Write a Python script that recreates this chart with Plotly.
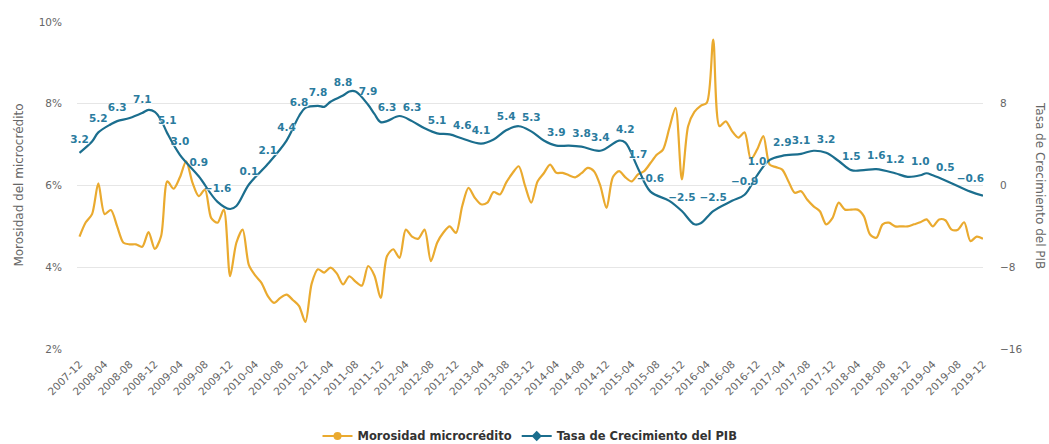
import pandas as pd
import plotly.graph_objects as go

# ---- categories (monthly, 2007-12 .. 2019-12) ----
meses = list(pd.date_range("2007-12-01", "2019-12-01", freq="MS").strftime("%Y-%m"))
etiquetas_x = meses[::4]

# ---- left / right axis ticks ----
ticks_izq = [2, 4, 6, 8, 10]
ticks_izq_txt = ["2%", "4%", "6%", "8%", "10%"]
ticks_der = [-16, -8, 0, 8]
ticks_der_txt = ["\u221216", "\u22128", "0", "8"]

# ---- Morosidad microcrédito (% monthly) ----
morosidad = [
    4.75, 5.10, 5.30, 6.05, 5.30, 5.40, 5.00, 4.60, 4.56, 4.56, 4.50, 4.86, 4.45,
    4.76, 6.10, 5.92, 6.20, 6.59, 6.07, 5.74, 5.90, 5.20, 5.09, 5.41, 3.78, 4.60,
    4.92, 4.05, 3.80, 3.62, 3.30, 3.13, 3.25, 3.33, 3.20, 3.05, 2.66, 3.60, 3.95,
    3.87, 3.99, 3.85, 3.58, 3.78, 3.65, 3.55, 4.03, 3.80, 3.25, 4.27, 4.44, 4.23,
    4.92, 4.75, 4.70, 4.92, 4.15, 4.60, 4.85, 5.00, 4.84, 5.50, 5.94, 5.70, 5.54,
    5.58, 5.84, 5.78, 6.07, 6.30, 6.47, 6.00, 5.58, 6.10, 6.30, 6.51, 6.31, 6.31,
    6.25, 6.20, 6.30, 6.43, 6.35, 6.00, 5.45, 6.20, 6.35, 6.20, 6.10, 6.27, 6.35,
    6.55, 6.75, 6.88, 7.40, 7.90, 6.15, 7.45, 7.80, 7.95, 8.03, 9.57, 7.45, 7.57,
    7.33, 7.17, 7.30, 6.64, 6.88, 7.21, 6.51, 6.45, 6.39, 6.10, 5.82, 5.86, 5.65,
    5.49, 5.37, 5.05, 5.20, 5.58, 5.41, 5.41, 5.41, 5.25, 4.80, 4.72, 5.05, 5.09,
    5.00, 5.00, 5.00, 5.05, 5.10, 5.17, 5.00, 5.17, 5.15, 4.92, 4.92, 5.10, 4.64,
    4.75, 4.70,
]

# ---- Tasa de Crecimiento del PIB ----
pib_fechas = [
    "2007-12", "2008-02", "2008-03", "2008-05", "2008-06", "2008-08", "2008-10", "2008-11",
    "2008-12", "2009-01", "2009-02", "2009-04", "2009-07", "2009-10", "2009-12", "2010-01",
    "2010-03", "2010-06", "2010-09", "2010-11", "2010-12", "2011-02", "2011-03", "2011-04",
    "2011-06", "2011-07", "2011-08", "2011-10", "2011-11", "2011-12", "2012-01", "2012-03",
    "2012-05", "2012-07", "2012-09", "2012-11", "2013-01", "2013-04", "2013-06", "2013-08",
    "2013-10", "2013-12", "2014-02", "2014-04", "2014-06", "2014-08", "2014-11", "2015-02",
    "2015-03", "2015-05", "2015-07", "2015-10", "2015-12", "2016-02", "2016-03", "2016-05",
    "2016-08", "2016-10", "2016-12", "2017-02", "2017-04", "2017-07", "2017-09", "2017-11",
    "2018-01", "2018-03", "2018-05", "2018-07", "2018-10", "2018-12", "2019-02", "2019-03",
    "2019-04", "2019-06", "2019-10", "2019-12",
]
pib_valores = [
    3.2, 4.3, 5.2, 6.0, 6.3, 6.6, 7.1, 7.4,
    7.2, 6.4, 5.1, 3.0, 0.9, -1.6, -2.3, -2.0,
    0.1, 2.1, 4.4, 6.8, 7.6, 7.8, 7.7, 8.2,
    8.8, 9.2, 9.2, 7.9, 7.0, 6.2, 6.3, 6.8,
    6.3, 5.6, 5.1, 5.0, 4.6, 4.1, 4.5, 5.4,
    5.8, 5.3, 4.4, 3.9, 3.9, 3.8, 3.4, 4.4,
    4.2, 1.7, -0.6, -1.5, -2.5, -3.8, -3.7, -2.5,
    -1.5, -0.9, 1.0, 2.5, 2.9, 3.1, 3.4, 3.2,
    2.4, 1.5, 1.5, 1.6, 1.2, 0.85, 1.0, 1.2,
    1.0, 0.5, -0.6, -1.0,
]
# which points show a visible data label
pib_etiqueta = [
    1, 0, 1, 0, 1, 0, 1, 0,
    0, 0, 1, 1, 1, 1, 0, 0,
    1, 1, 1, 1, 0, 1, 0, 0,
    1, 0, 0, 1, 0, 0, 1, 0,
    1, 0, 1, 0, 1, 1, 0, 1,
    0, 1, 0, 1, 0, 1, 1, 0,
    1, 1, 1, 0, 1, 0, 0, 1,
    0, 1, 1, 0, 1, 1, 0, 1,
    0, 1, 0, 1, 1, 0, 1, 0,
    0, 1, 1, 0,
]

AMARILLO = "#EAAA2F"
AZUL = "#1B6E8E"
AZUL_TXT = "#2A7B9E"
GRIS = "#666666"
FONT = "DejaVu Sans"

lab_x = [f for f, e in zip(pib_fechas, pib_etiqueta) if e]
lab_y = [v for v, e in zip(pib_valores, pib_etiqueta) if e]
lab_t = [f"{v:.1f}".replace("-", "\u2212") for v in lab_y]

fig = go.Figure()

fig.add_trace(go.Scatter(
    x=meses, y=morosidad, mode="lines", name="Morosidad microcrédito",
    line=dict(color=AMARILLO, width=2.2, shape="spline", smoothing=0.8),
    showlegend=False,
))
fig.add_trace(go.Scatter(
    x=pib_fechas, y=pib_valores, mode="lines", name="Tasa de Crecimiento del PIB",
    line=dict(color=AZUL, width=2.2, shape="spline", smoothing=1.0),
    yaxis="y2", showlegend=False,
))
fig.add_trace(go.Scatter(
    x=lab_x, y=lab_y, mode="markers+text", text=lab_t, textposition="top center",
    marker=dict(size=10, opacity=0), yaxis="y2", showlegend=False, hoverinfo="skip",
    textfont=dict(family=FONT, size=10.5, color=AZUL_TXT, weight="bold",
                  shadow="1px 1px 1px white"),
    cliponaxis=False,
))

# legend entries
fig.add_trace(go.Scatter(
    x=[None], y=[None], mode="lines+markers", name="Morosidad microcrédito",
    line=dict(color=AMARILLO, width=2), marker=dict(symbol="circle", size=8, color=AMARILLO),
))
fig.add_trace(go.Scatter(
    x=[None], y=[None], mode="lines+markers", name="Tasa de Crecimiento del PIB",
    line=dict(color=AZUL, width=2), marker=dict(symbol="diamond", size=8, color=AZUL),
    yaxis="y2",
))

fig.update_layout(
    width=1049, height=444,
    margin=dict(l=77, r=66, t=22, b=95, autoexpand=False),
    paper_bgcolor="white", plot_bgcolor="white",
    font=dict(family=FONT, color=GRIS, size=10.5),
    xaxis=dict(
        type="category", categoryorder="array", categoryarray=meses,
        tickmode="array", tickvals=etiquetas_x, ticktext=etiquetas_x,
        tickangle=-45, showgrid=False, zeroline=False, showline=False,
        ticks="", ticklabelstandoff=6, range=[-0.4, 144], automargin=False,
        tickfont=dict(family=FONT, size=10.5, color=GRIS),
    ),
    yaxis=dict(
        range=[2, 10], tickmode="array", tickvals=ticks_izq, ticktext=ticks_izq_txt,
        showgrid=True, gridcolor="#e6e6e6", gridwidth=1, zeroline=False,
        showline=False, ticks="", ticklabelstandoff=14, automargin=False,
        tickfont=dict(family=FONT, size=10.5, color=GRIS),
    ),
    yaxis2=dict(
        range=[-16, 16], tickmode="array", tickvals=ticks_der, ticktext=ticks_der_txt,
        overlaying="y", side="right", showgrid=False, zeroline=False,
        showline=False, ticks="", ticklabelstandoff=16, automargin=False,
        tickfont=dict(family=FONT, size=10.5, color=GRIS),
    ),
    legend=dict(
        orientation="h", x=0.5, xanchor="center", y=-0.266, yanchor="middle",
        font=dict(family=FONT, size=11.5, color="#333333", weight="bold"),
        itemwidth=30,
    ),
    annotations=[
        dict(text="Morosidad del microcrédito", xref="paper", yref="paper",
             x=-0.065, y=0.5, xanchor="center", yanchor="middle", textangle=-90,
             showarrow=False, font=dict(family=FONT, size=12, color=GRIS)),
        dict(text="Tasa de Crecimiento del PIB", xref="paper", yref="paper",
             x=1.0635, y=0.5, xanchor="center", yanchor="middle", textangle=90,
             showarrow=False, font=dict(family=FONT, size=12, color=GRIS)),
    ],
)

fig.write_html("out.html")
